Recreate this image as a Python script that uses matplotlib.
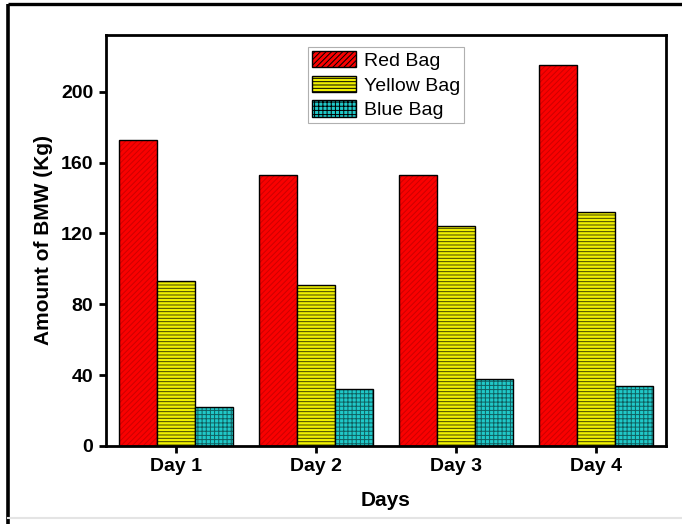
import matplotlib.pyplot as plt
import numpy as np
from matplotlib.lines import Line2D

days = ['Day 1', 'Day 2', 'Day 3', 'Day 4']
red_bag = [173, 153, 153, 215]
yellow_bag = [93, 91, 124, 132]
blue_bag = [22, 32, 38, 34]

plt.rcParams['font.family'] = ['Liberation Sans', 'DejaVu Sans']
plt.rcParams['hatch.linewidth'] = 0.7

fig = plt.figure(figsize=(6.82, 5.24), dpi=100)
ax = fig.add_axes([0.1554, 0.1489, 0.821, 0.7843])

x = np.arange(1, len(days) + 1)
w = 0.27

series = [
    (red_bag, '#fa0000', '#cc0000', '//////', 'Red Bag', -w),
    (yellow_bag, '#f0f000', '#404000', '-----', 'Yellow Bag', 0),
    (blue_bag, '#20c8c8', '#106060', '++++', 'Blue Bag', w),
]
for vals, fc, hc, hatch, label, off in series:
    # hatch layer in its own colour, then black outline on top
    ax.bar(x + off, vals, w, color=fc, edgecolor=hc, hatch=hatch, linewidth=0)
    ax.bar(x + off, vals, w, facecolor='none', edgecolor='black', linewidth=1.0)
    ax.bar([0], [0], 0, facecolor=fc, edgecolor='black', hatch=hatch,
           linewidth=1.0, label=label)

ax.set_xlim(0.5, 4.5)
ax.set_ylim(0, 232)
ax.set_yticks([0, 40, 80, 120, 160, 200])
ax.set_xticks(x)
ax.set_xticklabels(days)

for s in ax.spines.values():
    s.set_linewidth(2)
ax.tick_params(axis='both', direction='out', width=2, length=5, labelsize=14, pad=4)
for lbl in ax.get_xticklabels() + ax.get_yticklabels():
    lbl.set_fontweight('bold')

ax.set_xlabel('Days', fontsize=15, fontweight='bold', labelpad=11)
ax.set_ylabel('Amount of BMW (Kg)', fontsize=15, fontweight='bold', labelpad=6)

leg = ax.legend(loc='upper center', bbox_to_anchor=(0.5, 0.97), fontsize=14,
                fancybox=False, framealpha=1, edgecolor='#b0b0b0',
                handlelength=2.3, handleheight=0.9, borderpad=0.2,
                labelspacing=0.3, handletextpad=0.4, borderaxespad=0)
leg.get_frame().set_linewidth(0.8)

# outer frame: black on left and top, faint grey at the bottom
fig.add_artist(Line2D([0.0115, 0.0115], [0, 0.992], transform=fig.transFigure,
                      color='black', lw=2.6, solid_capstyle='butt'))
fig.add_artist(Line2D([0.0115, 1], [0.9915, 0.9915], transform=fig.transFigure,
                      color='black', lw=2.4, solid_capstyle='butt'))
fig.add_artist(Line2D([0.0115, 1], [0.012, 0.012], transform=fig.transFigure,
                      color='#e4e4e4', lw=1.5))

fig.savefig('out.png', dpi=100)
